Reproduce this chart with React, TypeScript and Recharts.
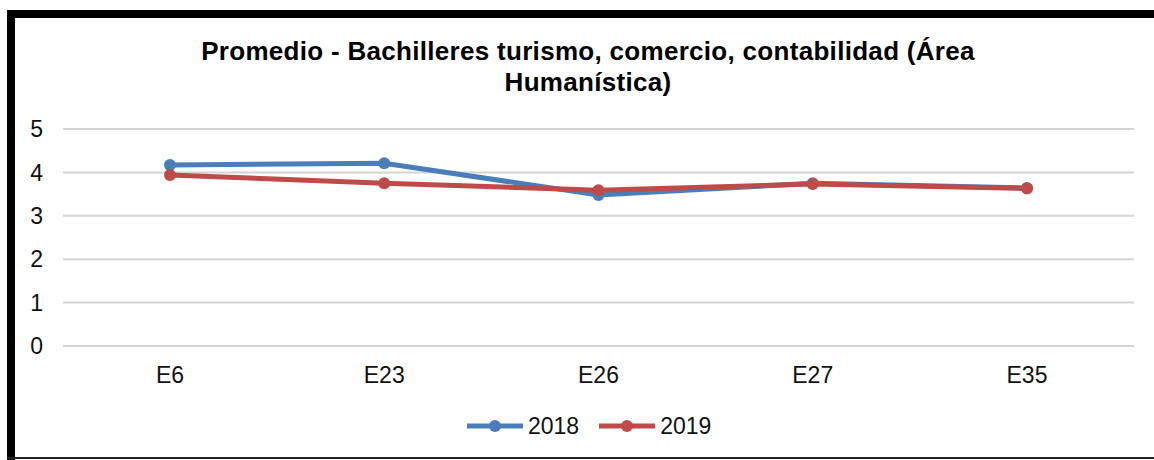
import { LineChart, Line, XAxis, YAxis, CartesianGrid } from "recharts";

const categories = ["E6", "E23", "E26", "E27", "E35"];
const values2018 = [4.17, 4.21, 3.48, 3.75, 3.64];
const values2019 = [3.94, 3.75, 3.59, 3.73, 3.63];
const yTicks = [0, 1, 2, 3, 4, 5];

const SERIES = [
  { key: "y2018", name: "2018", color: "#4A7EBB" },
  { key: "y2019", name: "2019", color: "#BE4B48" },
];

const FONT = '"Liberation Sans", Arial, sans-serif';

const data = categories.map((c, i) => ({
  cat: c,
  y2018: values2018[i],
  y2019: values2019[i],
}));

// legend drawn in HTML so it doesn't steal height from the plot area
function ChartLegend() {
  return (
    <div
      style={{
        position: "absolute",
        left: 467,
        top: 414,
        display: "flex",
        alignItems: "center",
        height: 24,
        fontFamily: FONT,
        fontSize: 23,
        color: "#111",
      }}
    >
      {SERIES.map((s) => (
        <div key={s.key} style={{ display: "flex", alignItems: "center", marginRight: 20 }}>
          <svg width={56} height={14} style={{ marginRight: 5 }}>
            <line x1={0} y1={7} x2={56} y2={7} stroke={s.color} strokeWidth={5} />
            <circle cx={28} cy={7} r={6} fill={s.color} />
          </svg>
          <span>{s.name}</span>
        </div>
      ))}
    </div>
  );
}

export default function App() {
  return (
    <div style={{ position: "absolute", left: 0, top: 0, width: 1154, height: 460, background: "#fff", overflow: "hidden" }}>
      <div
        style={{
          position: "absolute",
          left: 0,
          top: 36,
          width: 1176,
          textAlign: "center",
          fontFamily: FONT,
          fontWeight: 700,
          fontSize: 26,
          letterSpacing: 0.3,
          lineHeight: "31px",
          color: "#000",
        }}
      >
        Promedio - Bachilleres turismo, comercio, contabilidad (Área
        <br />
        Humanística)
      </div>
      <div style={{ position: "absolute", left: 0, top: 0 }}>
        <LineChart width={1154} height={460} data={data} margin={{ top: 129, right: 20, bottom: 84, left: 0 }}>
          <CartesianGrid vertical={false} stroke="#d4d4d4" strokeWidth={2} />
          <XAxis
            dataKey="cat"
            height={30}
            axisLine={false}
            tickLine={false}
            tickSize={0}
            tickMargin={21}
            padding={{ left: 107, right: 107 }}
            tick={{ fontSize: 23, fill: "#111", fontFamily: FONT }}
            interval={0}
          />
          <YAxis
            width={63}
            domain={[0, 5]}
            ticks={yTicks}
            axisLine={false}
            tickLine={false}
            tickSize={0}
            tickMargin={20}
            tick={{ fontSize: 23, fill: "#111", fontFamily: FONT }}
          />
          {SERIES.map((s) => (
            <Line
              key={s.key}
              type="linear"
              dataKey={s.key}
              name={s.name}
              stroke={s.color}
              strokeWidth={5}
              dot={{ r: 6, fill: s.color, stroke: s.color, strokeWidth: 0 }}
              isAnimationActive={false}
            />
          ))}
        </LineChart>
      </div>
      <ChartLegend />
      <div style={{ position: "absolute", left: 7, top: 10, width: 1160, height: 8, background: "#000" }} />
      <div style={{ position: "absolute", left: 7, top: 10, width: 8, height: 460, background: "#000" }} />
      <div style={{ position: "absolute", left: 7, top: 457, width: 1160, height: 2, background: "#222" }} />
    </div>
  );
}
